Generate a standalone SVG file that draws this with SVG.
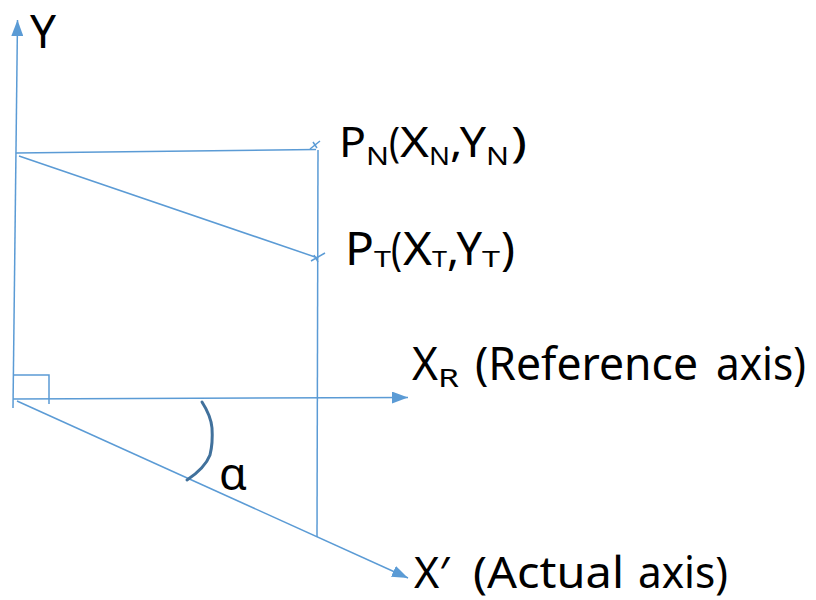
<svg xmlns="http://www.w3.org/2000/svg" width="816" height="600" viewBox="0 0 816 600">
<style>
.ln{stroke:#5b9bd5;stroke-width:1.5;fill:none}
.arc{stroke:#41719c;stroke-width:3;fill:none;stroke-linecap:round;stroke-linejoin:round}
.t{font-family:"Noto Sans","Open Sans","Liberation Sans",sans-serif;fill:#000}
</style>
<defs>
<marker id="ahb" viewBox="0 0 16 12" refX="16" refY="6" markerWidth="16" markerHeight="12" markerUnits="userSpaceOnUse" orient="auto">
<path d="M0,0 L16,6 L0,12 Z" fill="#5b9bd5"/>
</marker>
</defs>
<g id="connectors">
<line class="ln" x1="13" y1="408" x2="17.5" y2="20" marker-end="url(#ahb)"/>
<line class="ln" x1="13" y1="399" x2="408" y2="397.5" marker-end="url(#ahb)"/>
<line class="ln" x1="17" y1="401" x2="408" y2="578" marker-end="url(#ahb)"/>
<line class="ln" x1="16" y1="153" x2="316" y2="149.5"/>
<line class="ln" x1="19" y1="156" x2="318" y2="258"/>
<line class="ln" x1="318" y1="150" x2="317" y2="537"/>
<path class="ln" d="M310,149 L320,141 M313,142 L317,148"/>
<path class="ln" d="M311,261 L325,253 M314,255 L318,262"/>
<path class="ln" d="M13,375 L49,375 L49,404"/>
</g>
<g id="angle">
<path class="arc" d="M202,402 Q211,416 212,428 Q213,443 210,455 Q205,468 187,480"/>
<text class="t" x="219" y="490" font-size="45">α</text>
</g>
<g id="label-y"><text class="t" x="30" y="48" font-size="46">Y</text></g>
<g id="label-pn"><text class="t" font-size="42"><tspan x="339" y="157" textLength="27" lengthAdjust="spacingAndGlyphs">P</tspan><tspan x="366" y="165" font-size="25" textLength="23" lengthAdjust="spacingAndGlyphs">N</tspan><tspan x="389" y="157" textLength="11" lengthAdjust="spacingAndGlyphs">(</tspan><tspan x="400" y="157" textLength="29" lengthAdjust="spacingAndGlyphs">X</tspan><tspan x="429" y="165" font-size="25" textLength="21" lengthAdjust="spacingAndGlyphs">N</tspan><tspan x="450" y="157" textLength="36" lengthAdjust="spacingAndGlyphs">,Y</tspan><tspan x="486" y="165" font-size="25" textLength="23" lengthAdjust="spacingAndGlyphs">N</tspan><tspan x="511" y="157" textLength="16" lengthAdjust="spacingAndGlyphs">)</tspan></text></g>
<g id="label-pt"><text class="t" font-size="45"><tspan x="345" y="265" textLength="29" lengthAdjust="spacingAndGlyphs">P</tspan><tspan x="374" y="267" font-size="22" textLength="17" lengthAdjust="spacingAndGlyphs">T</tspan><tspan x="391" y="265" textLength="11" lengthAdjust="spacingAndGlyphs">(</tspan><tspan x="403" y="265" textLength="29" lengthAdjust="spacingAndGlyphs">X</tspan><tspan x="432" y="267" font-size="22" textLength="15" lengthAdjust="spacingAndGlyphs">T</tspan><tspan x="447" y="265" textLength="35" lengthAdjust="spacingAndGlyphs">,Y</tspan><tspan x="482" y="267" font-size="22" textLength="18" lengthAdjust="spacingAndGlyphs">T</tspan><tspan x="501" y="265" textLength="14" lengthAdjust="spacingAndGlyphs">)</tspan></text></g>
<g id="label-xr"><text class="t" font-size="46"><tspan x="412" y="380" textLength="26" lengthAdjust="spacingAndGlyphs">X</tspan><tspan x="438" y="387" font-size="26" textLength="21" lengthAdjust="spacingAndGlyphs">R</tspan><tspan x="475" y="380" textLength="223" lengthAdjust="spacingAndGlyphs">(Reference</tspan><tspan x="716" y="380" textLength="90" lengthAdjust="spacingAndGlyphs">axis)</tspan></text></g>
<g id="label-xp"><text class="t" font-size="43"><tspan x="414" y="588">X′</tspan><tspan x="473" y="588" textLength="151" lengthAdjust="spacingAndGlyphs">(Actual</tspan><tspan x="638" y="588" textLength="90" lengthAdjust="spacingAndGlyphs">axis)</tspan></text></g>
</svg>
